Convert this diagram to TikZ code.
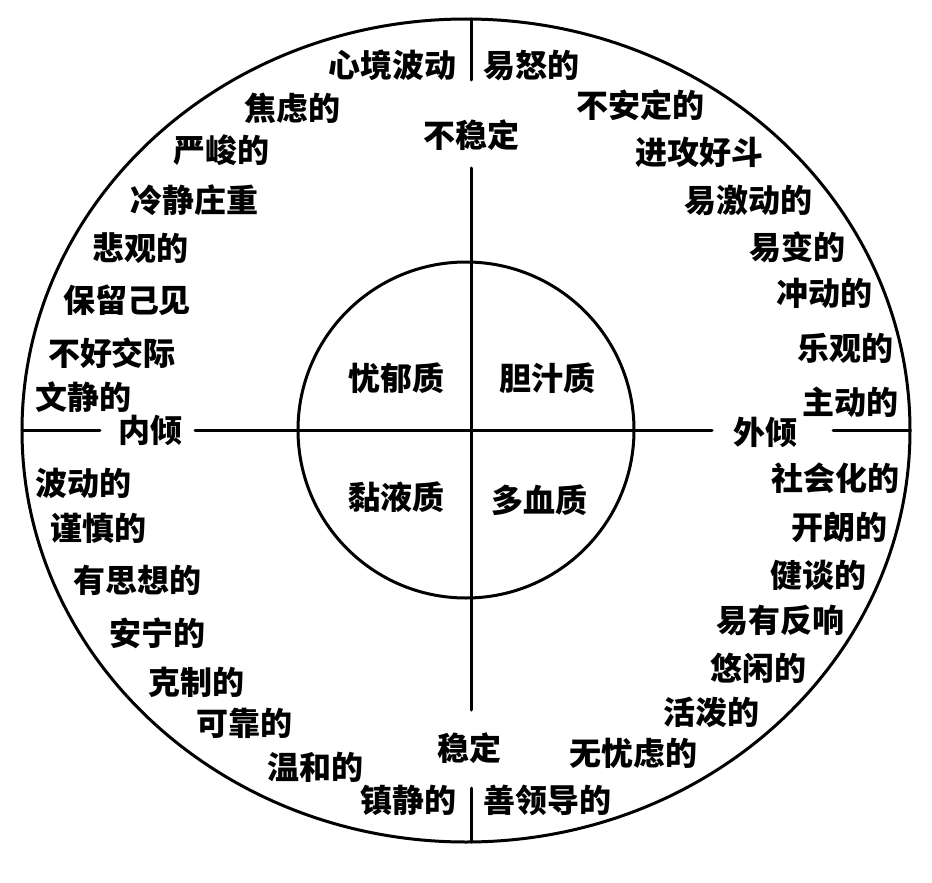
\documentclass[tikz,border=0pt]{standalone}
\usepackage{fontspec}
\usetikzlibrary{shapes.geometric}
\setmainfont{Noto Sans CJK SC}
\begin{document}
\begin{tikzpicture}[x=1pt,y=-1pt,
  lbl/.style={font=\bfseries\fontsize{32}{32}\selectfont, inner sep=0pt, anchor=center},
  rule/.style={line width=3pt, line cap=round}]
\useasboundingbox (0,0) rectangle (932,883);
% outer ellipse and inner circle
\node[draw, line width=3pt, ellipse, minimum width=888pt, minimum height=823pt, inner sep=0pt] (outer) at (466,430.5) {};
\node[draw, line width=3pt, circle, minimum size=336pt, inner sep=0pt] (inner) at (466,430) {};
% labels
\node[lbl] (xjbd) at (392,65) {心境波动};
\node[lbl] (jld) at (292,108) {焦虑的};
\node[lbl] (yjd) at (221,150) {严峻的};
\node[lbl] (ljzz) at (194,200) {冷静庄重};
\node[lbl] (bgd) at (140,248) {悲观的};
\node[lbl] (bljj) at (127,300) {保留己见};
\node[lbl] (bhjj) at (112,353) {不好交际};
\node[lbl] (wjd) at (83,397) {文静的};
\node[lbl] (nq) at (150,430) {内倾};
\node[lbl] (ynd) at (531,65) {易怒的};
\node[lbl] (badd) at (640,105) {不安定的};
\node[lbl] (bwd) at (471,135) {不稳定};
\node[lbl] (jghd) at (699,152) {进攻好斗};
\node[lbl] (yjdd) at (748,200) {易激动的};
\node[lbl] (ybd) at (797,247) {易变的};
\node[lbl] (cdd) at (824,293) {冲动的};
\node[lbl] (lgd) at (845,348) {乐观的};
\node[lbl] (zdd) at (850,402) {主动的};
\node[lbl] (wq) at (765,432) {外倾};
\node[lbl] (bdd) at (83,483) {波动的};
\node[lbl] (jsd) at (98,528) {谨慎的};
\node[lbl] (ysxd) at (137,580) {有思想的};
\node[lbl] (anning) at (157,633) {安宁的};
\node[lbl] (kzd) at (196,682) {克制的};
\node[lbl] (kkd) at (244,723) {可靠的};
\node[lbl] (whd) at (315,767) {温和的};
\node[lbl] (zjd) at (408,800) {镇静的};
\node[lbl] (wd) at (469,748) {稳定};
\node[lbl] (shhd) at (835,478) {社会化的};
\node[lbl] (kld) at (839,527) {开朗的};
\node[lbl] (ttd) at (818,575) {健谈的};
\node[lbl] (yyfx) at (780,620) {易有反响};
\node[lbl] (yxd) at (758,668) {悠闲的};
\node[lbl] (hpd) at (711,712) {活泼的};
\node[lbl] (wylvd) at (633,753) {无忧虑的};
\node[lbl] (sldd) at (547,800) {善领导的};
\node[lbl] (yyz) at (396,378) {忧郁质};
\node[lbl] (dzz) at (547,378) {胆汁质};
\node[lbl] (nyz) at (396,497) {黏液质};
\node[lbl] (dxz) at (539,500) {多血质};
% axis end points
\coordinate (hL) at (22,430);
\coordinate (hR) at (910,430);
\coordinate (nqL) at (100,430);
\coordinate (nqR) at (195,430);
\coordinate (wqL) at (712,430);
\coordinate (wqR) at (833,430);
\coordinate (vT) at (471,19);
\coordinate (vT2) at (471,80);
\coordinate (bwdB) at (471,168);
\coordinate (wdT) at (471,710);
\coordinate (wdB) at (471,788);
\coordinate (vB) at (471,842);
% axes
\draw[rule] (hL) -- (nqL);
\draw[rule] (nqR) -- (wqL);
\draw[rule] (wqR) -- (hR);
\draw[rule] (vT) -- (vT2);
\draw[rule] (bwdB) -- (wdT);
\draw[rule] (wdB) -- (vB);
\end{tikzpicture}
\end{document}
